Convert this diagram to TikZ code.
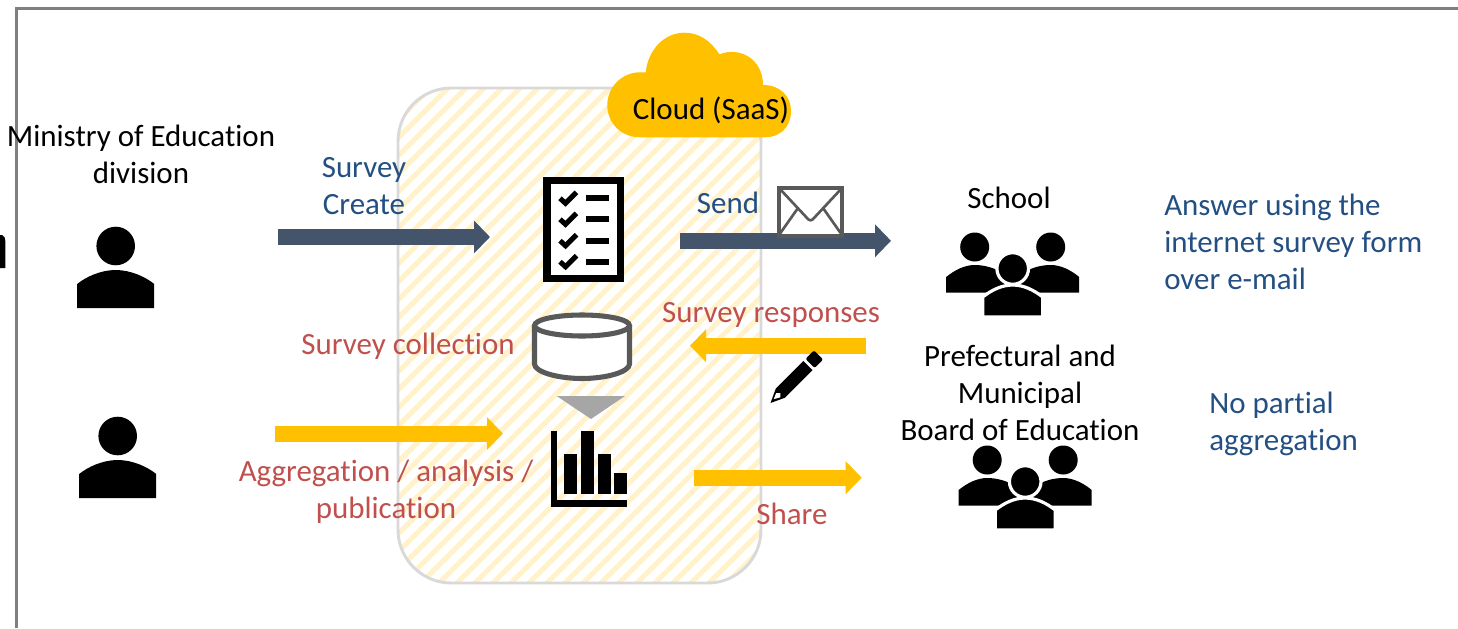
\documentclass[tikz,border=0pt]{standalone}
\usepackage{fontspec}
\setmainfont[Ligatures=NoCommon]{Carlito}
\usetikzlibrary{arrows.meta}
\definecolor{darkarrow}{HTML}{44546A}
\definecolor{amber}{HTML}{FFC000}
\definecolor{hatchc}{HTML}{FFF2CC}
\definecolor{edgeg}{HTML}{D9D9D9}
\definecolor{frameg}{HTML}{7F7F7F}
\definecolor{icong}{HTML}{595959}
\definecolor{bluetxt}{HTML}{234F82}
\definecolor{redtxt}{HTML}{C0504D}
\tikzset{
  x=0.75pt,y=-0.75pt,
  lbl/.style={inner sep=0pt,align=center,font=\fontsize{23.2}{27.75}\selectfont},
  blk/.style={lbl,text=black},
  blu/.style={lbl,text=bluetxt},
  red/.style={lbl,text=redtxt},
  bluleft/.style={blu,align=left,anchor=west},
  blockdark/.style={draw=darkarrow,line width=12pt,-{Triangle[width=24pt,length=12pt,fill=darkarrow]}},
  blockamber/.style={draw=amber,line width=12pt,-{Triangle[width=24pt,length=12pt,fill=amber]}},
  person/.pic={
    \fill[black] (0,0) circle (19.3);
    \fill[black] (-38.5,62) -- (-38.5,38) .. controls (-30,31) and (-15,24) .. (0,24) .. controls (15,24) and (30,31) .. (38.5,38) -- (38.5,62) -- cycle;
  },
  group/.pic={
    \fill[black] (-38,0) circle (14.5);
    \fill[black] (38,0) circle (14.5);
    \fill[black] (-66.5,45.5) -- (-66.5,30) .. controls (-58,23) and (-48,18) .. (-38,18) .. controls (-28,18) and (-18,21) .. (-10,26) -- (10,26) .. controls (18,21) and (28,18) .. (38,18) .. controls (48,18) and (58,23) .. (66.5,30) -- (66.5,45.5) -- cycle;
    \fill[black,draw=white,line width=2.4pt] (0,21.5) circle (15.8);
    \fill[black,draw=white,line width=2.4pt] (-30,70) -- (-30,50) .. controls (-21,43) and (-11,38) .. (0,38) .. controls (11,38) and (21,43) .. (30,50) -- (30,70) -- cycle;
  }
}
\begin{document}
\begin{tikzpicture}
\useasboundingbox (0,0) rectangle (1458,628);
% frame
\draw[frameg,line width=1.8pt] (16.5,628) -- (16.5,8.5) -- (1458,8.5);
\fill[black] (0,235) -- (2,235) .. controls (4.5,236) and (5.3,238) .. (5.3,241) -- (5.3,268) -- (0,268) -- cycle;
% cloud platform
\begin{scope}
\clip[rounded corners=40pt] (398,88) rectangle (761,583);
\foreach \k in {-100,-82,...,780}{
  \draw[hatchc,line width=3.8pt] (\k,600) -- (\k+530,70);
}
\end{scope}
\draw[edgeg,line width=2.2pt,rounded corners=40pt] (398,88) rectangle (761,583);
% cloud
\fill[amber] (640,137.3) .. controls (621,137.3) and (607.3,123) .. (607.3,105)
  .. controls (607.3,87) and (622,72.3) .. (640,72.3) -- (645.7,72.3)
  .. controls (648,50) and (664,32.7) .. (684.5,32.7)
  .. controls (699,32.7) and (711,41) .. (719.3,54.3)
  .. controls (741,46) and (763,60) .. (763,85)
  .. controls (780,85) and (791,96) .. (791,111)
  .. controls (791,127) and (780,137.3) .. (765,137.3) -- cycle;
\node[blk] (cloudlbl) at (711,110) {Cloud (SaaS)};
% persons
\pic at (115.7,246) {person};
\pic at (117.7,436) {person};
\pic at (1012.7,247) {group};
\pic at (1025.2,460) {group};
% checklist
\draw[black,line width=5.4pt,fill=white] (546.9,180.3) rectangle (620.7,278.4);
\foreach \yy in {198.3,219.3,240.7,261.7}{
  \draw[black,line width=3.8pt] (560,\yy) -- (565.5,\yy+5) -- (576.5,\yy-6);
  \fill[black] (586,\yy-3) rectangle (609,\yy+3);
}
% database
\draw[icong,line width=3.8pt,fill=white] (534.5,325.5) -- (534.5,364) .. controls (534.5,372) and (558,378.5) .. (582,378.5) .. controls (606,378.5) and (629.5,372) .. (629.5,364) -- (629.5,325.5);
\draw[icong,line width=3.8pt,fill=white] (582,325.5) ellipse (47.5 and 10.5);
% funnel triangle
\fill[black!35] (556.7,396) -- (625,396) -- (591,419) -- cycle;
% chart
\fill[black] (550.7,430.7) rectangle (557.3,506.7);
\fill[black] (550.7,500) rectangle (627,506.7);
\fill[black] (564,454) rectangle (577,493.7);
\fill[black] (581,430.7) rectangle (594,493.7);
\fill[black] (598,454) rectangle (611,493.7);
\fill[black] (614,473) rectangle (627,493.7);
% arrows
\coordinate (a1s) at (278,237); \coordinate (a1e) at (490,237);
\coordinate (a2s) at (679.7,240.8); \coordinate (a2e) at (891,240.8);
\coordinate (a3s) at (866,345.7); \coordinate (a3e) at (690,345.7);
\coordinate (a4s) at (275,433.5); \coordinate (a4e) at (503,433.5);
\coordinate (a5s) at (694,477.7); \coordinate (a5e) at (861.7,477.7);
\draw[blockdark] (a1s) -- (a1e);
\draw[blockdark] (a2s) -- (a2e);
\draw[blockamber] (a3s) -- (a3e);
\draw[blockamber] (a4s) -- (a4e);
\draw[blockamber] (a5s) -- (a5e);
% envelope
\draw[icong,line width=3pt,fill=white] (778.7,187.7) rectangle (842,235.7);
\draw[icong,line width=2pt,line join=round] (779,188) -- (807,218) .. controls (809,221) and (812,221) .. (814,218) -- (842,188);
\draw[icong,line width=2pt] (779,235) -- (798,208);
\draw[icong,line width=2pt] (842,235) -- (823,208);
% pencil
\begin{scope}[shift={(770.5,403)},x={(0.53pt,0.53pt)},y={(0.53pt,-0.53pt)}]
\fill[black] (0,0) -- (14,-6.5) -- (53,-6.5) -- (53,6.5) -- (14,6.5) -- cycle;
\fill[black,rounded corners=1.5pt] (56,-6.5) -- (68,-6.5) -- (68,6.5) -- (56,6.5) -- cycle;
\fill[white] (5,-0.5) -- (11,-3) -- (14,0) -- (11,3) -- cycle;
\end{scope}
% labels
\node[blk] (ministry) at (141,154.5) {Ministry of Education\\division};
\node[blu] (create) at (364,186) {Survey\\Create};
\node[blu] (send) at (728,202.5) {Send};
\node[blk] (school) at (1009,198) {School};
\node[bluleft] (answer) at (1164,242) {Answer using the\\internet survey form\\over e-mail};
\node[red] (resp) at (771,315) {Survey responses};
\node[red] (coll) at (408,346) {Survey collection};
\node[blk] (board) at (1020,393) {Prefectural and\\Municipal\\Board of Education};
\node[bluleft] (partial) at (1209,423.5) {No partial\\aggregation};
\node[red] (agg) at (386,491.5) {Aggregation / analysis /\\publication};
\node[red] (share) at (792,514) {Share};
\end{tikzpicture}
\end{document}
